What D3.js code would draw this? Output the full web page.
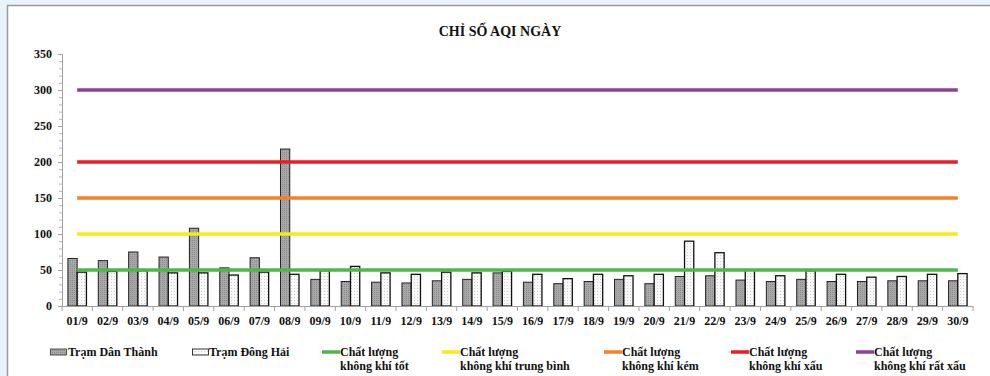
<!DOCTYPE html>
<html>
<head>
<meta charset="utf-8">
<script src="https://cdn.jsdelivr.net/npm/d3@7"></script>
<style>
  html, body { margin: 0; padding: 0; background: #e8f4fb; }
  svg { display: block; }
  svg text { font-family: "Liberation Serif", "Times New Roman", serif !important; font-weight: bold; fill: #111; }
</style>
</head>
<body>
<svg id="chart" width="990" height="376"></svg>
<script>
// Daily AQI, September
const days = ["01/9","02/9","03/9","04/9","05/9","06/9","07/9","08/9","09/9","10/9",
              "11/9","12/9","13/9","14/9","15/9","16/9","17/9","18/9","19/9","20/9",
              "21/9","22/9","23/9","24/9","25/9","26/9","27/9","28/9","29/9","30/9"];
const danThanh = [66, 63, 75, 68, 108, 53, 67, 218, 37, 34,
                  33, 32, 35, 37, 46, 33, 31, 34, 37, 31,
                  41, 42, 36, 34, 37, 34, 34, 35, 35, 35];
const dongHai  = [47, 48, 49, 46, 46, 43, 47, 44, 49, 55,
                  46, 44, 47, 46, 48, 44, 38, 44, 42, 44,
                  90, 74, 50, 42, 49, 44, 40, 41, 44, 45];
// Quality thresholds drawn as horizontal lines
const thresholdNames = ["Chất lượng|không khí tốt", "Chất lượng|không khí trung bình",
                        "Chất lượng|không khí kém", "Chất lượng|không khí xấu",
                        "Chất lượng|không khí rất xấu"];
const thresholdValues = [50, 100, 150, 200, 300];
const thresholdColors = ["#4db848", "#f3ec19", "#f58025", "#ec1c24", "#8e3f99"];
const yTicks = [0, 50, 100, 150, 200, 250, 300, 350];
const title = "CHỈ SỐ AQI NGÀY";

const FONT = "'Liberation Serif', 'Times New Roman', serif";
const svg = d3.select("#chart");

// white panel
svg.append("rect").attr("x", 7.5).attr("y", 5.5).attr("width", 1000).attr("height", 400)
  .attr("fill", "#fff").attr("stroke", "#9a9a9a").attr("stroke-width", 1.5);

// fill patterns
const defs = svg.append("defs");
const pg = defs.append("pattern").attr("id", "hatchGray").attr("patternUnits", "userSpaceOnUse")
  .attr("width", 2).attr("height", 2);
pg.append("rect").attr("width", 2).attr("height", 2).attr("fill", "#a8a8a8");
pg.append("rect").attr("x", 0).attr("y", 0).attr("width", 1).attr("height", 1).attr("fill", "#8c8c8c");
const pw = defs.append("pattern").attr("id", "dotsWhite").attr("patternUnits", "userSpaceOnUse")
  .attr("width", 3).attr("height", 3);
pw.append("rect").attr("width", 3).attr("height", 3).attr("fill", "#f8f8f8");
pw.append("rect").attr("x", 0).attr("y", 0).attr("width", 1).attr("height", 1).attr("fill", "#cdcdcd");

const x = d3.scaleBand().domain(days).range([62, 973]).paddingInner(0).paddingOuter(0);
const y = d3.scaleLinear().domain([0, 350]).range([306, 54]);
const bw = x.bandwidth() * 0.305;

const styleText = sel => sel.style("font-family", FONT).style("font-weight", "bold").attr("fill", "#111");

// title
svg.append("text").attr("x", 500).attr("y", 36).attr("text-anchor", "middle")
  .attr("font-size", 14).call(styleText).text(title);

// y axis
const yAxis = svg.append("g").attr("transform", "translate(62,0)")
  .call(d3.axisLeft(y).tickValues(yTicks).tickSize(4).tickPadding(6).tickFormat(d3.format("d")));
yAxis.attr("font-family", null);
yAxis.select(".domain").attr("stroke", "#a0a0a0");
yAxis.selectAll(".tick line").attr("stroke", "#a0a0a0");
yAxis.selectAll("text").attr("font-size", 12).call(styleText);
svg.append("g").attr("transform", "translate(62,0)")
  .call(d3.axisLeft(y).tickValues(d3.range(0, 351, 10).filter(v => v % 50 !== 0)).tickSize(3).tickFormat(""))
  .call(g => g.select(".domain").remove())
  .selectAll(".tick line").attr("stroke", "#b5b5b5");

// bars
const bars = svg.append("g");
bars.selectAll("rect.dt").data(days).join("rect").attr("class", "dt")
  .attr("x", d => x(d) + x.bandwidth() / 2 - bw)
  .attr("y", (d, i) => y(danThanh[i]))
  .attr("width", bw).attr("height", (d, i) => y(0) - y(danThanh[i]))
  .attr("fill", "url(#hatchGray)").attr("stroke", "#222").attr("stroke-width", 1);
bars.selectAll("rect.dh").data(days).join("rect").attr("class", "dh")
  .attr("x", d => x(d) + x.bandwidth() / 2)
  .attr("y", (d, i) => y(dongHai[i]))
  .attr("width", bw).attr("height", (d, i) => y(0) - y(dongHai[i]))
  .attr("fill", "url(#dotsWhite)").attr("stroke", "#111").attr("stroke-width", 1.3);

// x axis
const xAxis = svg.append("g").attr("transform", "translate(0,306)")
  .call(d3.axisBottom(x).tickSize(0).tickPadding(10));
xAxis.attr("font-family", null);
xAxis.select(".domain").attr("stroke", "#a0a0a0");
xAxis.selectAll("text").attr("font-size", 12).call(styleText);
xAxis.selectAll(".sep").data(days.concat(["end"])).join("line").attr("class", "sep")
  .attr("x1", (d, i) => i < days.length ? x(d) : x.range()[1])
  .attr("x2", (d, i) => i < days.length ? x(d) : x.range()[1])
  .attr("y1", 0).attr("y2", 5).attr("stroke", "#a0a0a0");

// threshold lines across category centres
const line = d3.line().x(d => x(d.day) + x.bandwidth() / 2).y(d => y(d.v));
thresholdValues.forEach((v, k) => {
  svg.append("path").datum(days.map(day => ({ day, v })))
    .attr("d", line).attr("fill", "none")
    .attr("stroke", thresholdColors[k]).attr("stroke-width", 3.5);
});

// legend
const lg = svg.append("g");
const legendY = 352;
lg.append("rect").attr("x", 50.5).attr("y", legendY - 3).attr("width", 16).attr("height", 6)
  .attr("fill", "url(#hatchGray)").attr("stroke", "#333").attr("stroke-width", 0.8);
lg.append("text").attr("x", 68).attr("y", legendY + 4).attr("font-size", 12).call(styleText).text("Trạm Dân Thành");
lg.append("rect").attr("x", 192.5).attr("y", legendY - 3).attr("width", 16).attr("height", 6)
  .attr("fill", "url(#dotsWhite)").attr("stroke", "#222").attr("stroke-width", 0.9);
lg.append("text").attr("x", 209).attr("y", legendY + 4).attr("font-size", 12).call(styleText).text("Trạm Đông Hải");
const lineLegX = [322, 442, 604, 731, 856];
thresholdNames.forEach((name, k) => {
  const lx = lineLegX[k];
  lg.append("line").attr("x1", lx).attr("x2", lx + 18).attr("y1", legendY).attr("y2", legendY)
    .attr("stroke", thresholdColors[k]).attr("stroke-width", 3.5);
  const parts = name.split("|");
  const t = lg.append("text").attr("x", lx + 18).attr("y", legendY + 4).attr("font-size", 12).call(styleText);
  t.append("tspan").attr("x", lx + 18).text(parts[0]);
  t.append("tspan").attr("x", lx + 18).attr("dy", 14).text(parts[1]);
});
</script>
</body>
</html>
